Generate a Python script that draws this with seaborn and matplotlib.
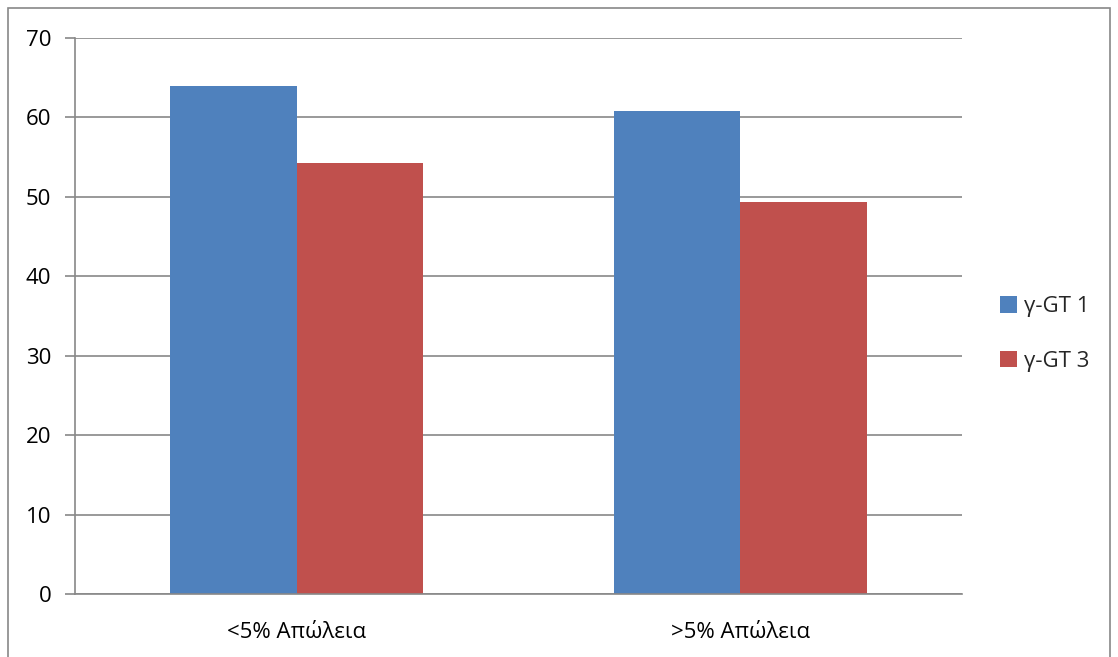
import matplotlib
matplotlib.use("Agg")
import matplotlib.pyplot as plt
import seaborn as sns
import pandas as pd
from matplotlib.patches import Rectangle, Patch

categories = ["<5% Απώλεια", ">5% Απώλεια"]
series_names = ["γ-GT 1", "γ-GT 3"]
gt1_values = [64.0, 60.8]
gt3_values = [54.2, 49.3]
y_ticks = [0, 10, 20, 30, 40, 50, 60, 70]

colors = ["#4F81BD", "#C0504D"]
grid_color = "#888888"

df = pd.DataFrame({
    "category": categories * 2,
    "series": [series_names[0]] * len(categories) + [series_names[1]] * len(categories),
    "value": gt1_values + gt3_values,
})

sns.set_theme(style="white")
plt.rcParams["font.family"] = ["Open Sans", "DejaVu Sans"]

fig = plt.figure(figsize=(11.18, 6.57), dpi=100)
ax = fig.add_axes([75 / 1118, 1 - 594 / 657, (962 - 75) / 1118, (594 - 38) / 657])

sns.barplot(data=df, x="category", y="value", hue="series", palette=colors,
            width=0.57, saturation=1, ax=ax, legend=False, linewidth=0)

ax.set_xlim(-0.5, 1.5)
ax.set_ylim(0, 70)
ax.set_yticks(y_ticks)
ax.set_yticklabels([str(t) for t in y_ticks], fontsize=16, color="black")
ax.yaxis.grid(True, color=grid_color, linewidth=1.2)
ax.set_axisbelow(True)
ax.set_xlabel("")
ax.set_ylabel("")

for side in ["top", "right"]:
    ax.spines[side].set_visible(False)
for side in ["left", "bottom"]:
    ax.spines[side].set_color(grid_color)
    ax.spines[side].set_linewidth(1.2)

# category labels centred, tick marks at category boundaries
ax.set_xticks([0, 1])
ax.set_xticklabels(categories, fontsize=16, color="black")
ax.tick_params(axis="x", length=0, pad=20)
ax.set_xticks([-0.5, 0.5, 1.5], minor=True)
ax.tick_params(axis="x", which="minor", length=7, width=1.2, color=grid_color, direction="out")
ax.tick_params(axis="y", length=7, width=1.2, color=grid_color, direction="out", pad=10, left=True)

handles = [Patch(facecolor=c, edgecolor="none") for c in colors]
fig.legend(handles, series_names, loc="center left", bbox_to_anchor=(1000 / 1118, 1 - 334 / 657),
           frameon=False, fontsize=16, handlelength=0.75, handleheight=0.75,
           handletextpad=0.35, labelspacing=1.5, borderpad=0, borderaxespad=0)

# outer chart frame
fig.patches.append(Rectangle((8 / 1118, -0.05), (1110 - 8) / 1118, 1.05 - 8 / 657,
                             transform=fig.transFigure, fill=False,
                             edgecolor=grid_color, linewidth=1.2))

fig.savefig("out.png", dpi=100, facecolor="white")
